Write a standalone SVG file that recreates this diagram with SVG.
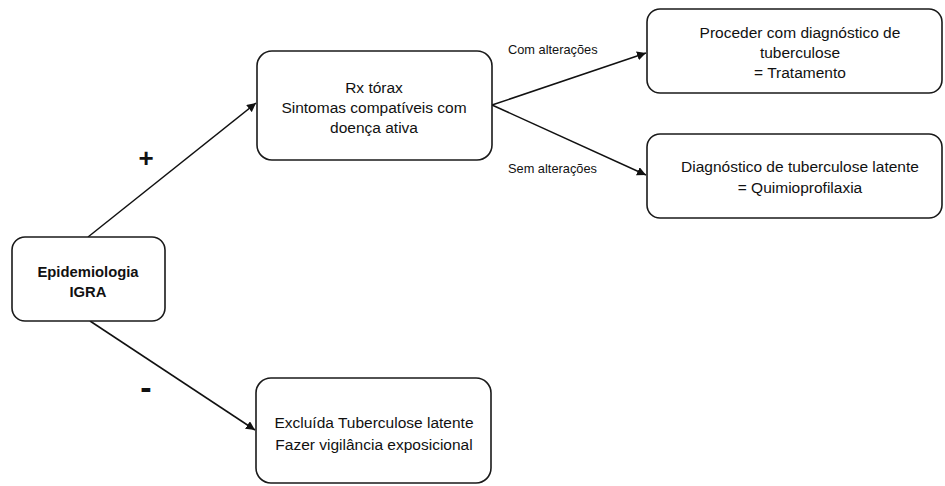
<svg xmlns="http://www.w3.org/2000/svg" width="945" height="486" viewBox="0 0 945 486">
<defs>
<marker id="ah" viewBox="0 0 10 10" refX="10" refY="5" markerWidth="9" markerHeight="9" markerUnits="userSpaceOnUse" orient="auto">
<path d="M0,0 L10,5 L0,10 z" fill="#111"/>
</marker>
<style>
.box{fill:#fff;stroke:#1a1a1a;stroke-width:1.6}
.t{font-family:"Liberation Sans",Arial,sans-serif;font-size:15.5px;fill:#111;text-anchor:middle}
.b{font-weight:bold;font-size:14.8px}
.lbl{font-family:"Liberation Sans",Arial,sans-serif;font-size:12.8px;fill:#111}
.sign{font-family:"Liberation Sans",Arial,sans-serif;font-size:26px;font-weight:bold;fill:#111;text-anchor:middle}
.c{stroke:#111;stroke-width:1.5;fill:none;marker-end:url(#ah)}
</style>
</defs>
<rect width="945" height="486" fill="#fff"/>
<g id="connectors">
<line class="c" x1="88" y1="237" x2="256" y2="103"/>
<line class="c" x1="90" y1="321" x2="255" y2="430"/>
<line class="c" x1="492" y1="105" x2="646" y2="53"/>
<line class="c" x1="492" y1="105" x2="646" y2="175"/>
<text class="lbl" x="508" y="54">Com alterações</text>
<text class="lbl" x="508" y="173">Sem alterações</text>
<text class="sign" x="146" y="167">+</text>
<text class="sign" x="146" y="399" style="font-size:34px">-</text>
</g>
<g id="epidemiologia">
<rect class="box" x="12" y="237" width="153" height="84" rx="13"/>
<text class="t b" x="88" y="277">Epidemiologia</text>
<text class="t b" x="88" y="297">IGRA</text>
</g>
<g id="rx">
<rect class="box" x="257" y="51" width="235" height="109" rx="15"/>
<text class="t" x="374" y="93">Rx tórax</text>
<text class="t" x="374" y="113">Sintomas compatíveis com</text>
<text class="t" x="374" y="133">doença ativa</text>
</g>
<g id="proceder">
<rect class="box" x="647" y="9" width="295" height="84" rx="13"/>
<text class="t" x="800" y="38">Proceder com diagnóstico de</text>
<text class="t" x="800" y="58">tuberculose</text>
<text class="t" x="800" y="78">= Tratamento</text>
</g>
<g id="latente">
<rect class="box" x="647" y="134" width="295" height="84" rx="13"/>
<text class="t" x="800" y="172">Diagnóstico de tuberculose latente</text>
<text class="t" x="800" y="193">= Quimioprofilaxia</text>
</g>
<g id="excluida">
<rect class="box" x="256" y="378" width="235" height="105" rx="15"/>
<text class="t" x="374" y="428">Excluída Tuberculose latente</text>
<text class="t" x="374" y="450">Fazer vigilância exposicional</text>
</g>
</svg>
